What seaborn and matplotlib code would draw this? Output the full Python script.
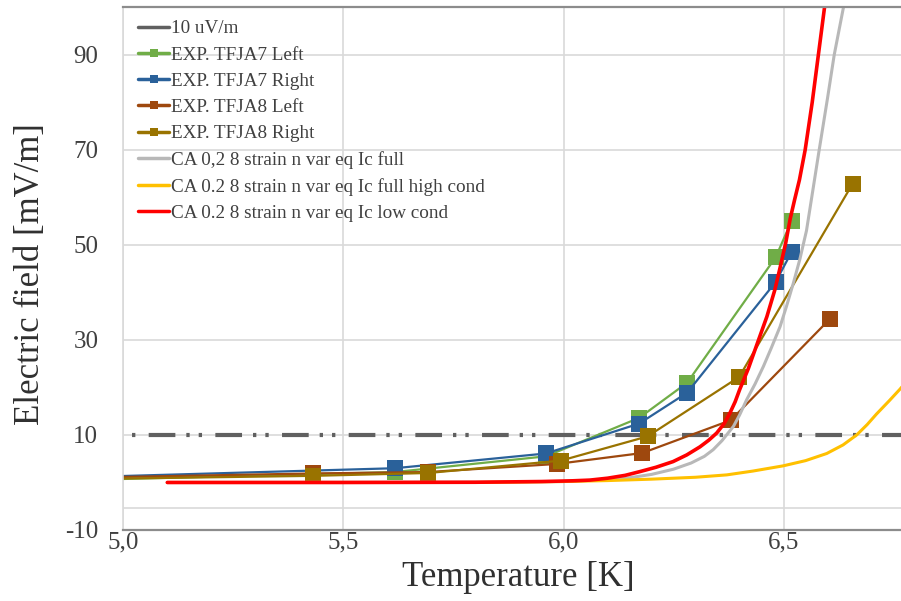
import matplotlib
matplotlib.use("Agg")
import matplotlib.pyplot as plt
import seaborn as sns
import pandas as pd
import numpy as np

# Datos (T en K, E en mV/m)
t_ja7 = [4.90, 5.617, 5.960, 6.172, 6.281, 6.482, 6.518]
e_ja7_left = [0.5, 2.2, 5.5, 13.6, 21.0, 47.4, 55.0]
e_ja7_right = [1.1, 3.0, 6.1, 12.4, 18.9, 42.2, 48.5]

t_ja8_left = [4.90, 5.432, 5.693, 5.985, 6.179, 6.380, 6.605]
e_ja8_left = [1.0, 1.9, 2.2, 3.9, 6.2, 13.1, 34.4]
t_ja8_right = [4.90, 5.432, 5.693, 5.994, 6.191, 6.399, 6.657]
e_ja8_right = [0.7, 1.4, 2.0, 4.6, 9.7, 22.2, 62.9]

# curvas del modelo CA
t_full = [5.10, 5.80, 6.00, 6.10, 6.15, 6.20, 6.25, 6.29, 6.32, 6.34, 6.36, 6.386,
          6.40, 6.416, 6.435, 6.454, 6.472, 6.492, 6.507, 6.522, 6.537, 6.552,
          6.569, 6.580, 6.600, 6.615, 6.636, 6.65]
e_full = [0.0, 0.05, 0.2, 0.6, 1.0, 1.7, 2.8, 4.1, 5.5, 6.9, 8.8, 11.8,
          14.2, 17.4, 20.7, 24.4, 28.3, 32.8, 37.2, 41.9, 47.0, 53.0,
          63.0, 69.5, 81.0, 90.0, 100.0, 108.0]

t_high = [5.10, 5.80, 6.00, 6.10, 6.20, 6.30, 6.371, 6.43, 6.499, 6.55, 6.598,
          6.635, 6.666, 6.69, 6.711, 6.74, 6.764, 6.80]
e_high = [0.0, 0.0, 0.2, 0.4, 0.7, 1.1, 1.6, 2.4, 3.5, 4.6, 6.1,
          7.9, 10.0, 12.2, 14.4, 17.2, 19.6, 23.5]

t_low = [5.10, 5.50, 5.80, 5.95, 6.02, 6.06, 6.10, 6.14, 6.174, 6.21, 6.249, 6.28,
         6.31, 6.33, 6.348, 6.365, 6.378, 6.39, 6.40, 6.42, 6.44, 6.462, 6.48,
         6.492, 6.505, 6.515, 6.525, 6.536, 6.549, 6.565, 6.579, 6.593, 6.60]
e_low = [0.0, 0.0, 0.05, 0.2, 0.35, 0.5, 0.9, 1.5, 2.3, 3.2, 4.4, 5.8,
         7.5, 8.9, 10.4, 12.4, 14.6, 17.0, 19.5, 24.0, 29.2, 34.9, 40.5,
         45.2, 50.5, 55.5, 59.5, 63.7, 70.0, 80.0, 90.0, 100.0, 105.0]

t_ref = [5.0, 6.8]
e_ref = [10, 10]

x_ticks = [5.0, 5.5, 6.0, 6.5]
x_tick_labels = ["5,0", "5,5", "6,0", "6,5"]
y_ticks = [-10, 10, 30, 50, 70, 90]

sns.set_style("white")
plt.rcParams['font.family'] = ['Liberation Serif', 'DejaVu Serif']
plt.rcParams['lines.scale_dashes'] = False
plt.rcParams['axes.unicode_minus'] = False

fig = plt.figure(figsize=(9.01, 6.01), dpi=100)
ax = fig.add_axes([123.3 / 901, 71 / 601, (901 - 123.3) / 901, (530 - 7.3) / 601])

ax.axhline(-5.3, color='#d9d9d9', lw=1.2, zorder=0)

# linea de referencia 10 uV/m (raya-punto-punto)
sns.lineplot(x=t_ref, y=e_ref, ax=ax, color='#606060', lw=3.0, label='10 uV/m',
             linestyle=(29.5, (19.2, 7.9, 2.4, 6.5, 2.4, 9.6)), sort=False, estimator=None)

exp_series = [
    ("EXP. TFJA7 Left", t_ja7, e_ja7_left, '#70ad47'),
    ("EXP. TFJA7 Right", t_ja7, e_ja7_right, '#2a619a'),
    ("EXP. TFJA8 Left", t_ja8_left, e_ja8_left, '#9e480e'),
    ("EXP. TFJA8 Right", t_ja8_right, e_ja8_right, '#997300'),
]
for nombre, t, e, c in exp_series:
    df = pd.DataFrame({'T': t, 'E': e})
    sns.lineplot(data=df, x='T', y='E', ax=ax, color=c, lw=1.6, marker='s',
                 markersize=12, markeredgewidth=0, label=nombre, sort=False, estimator=None)

ca_series = [
    ("CA 0,2 8 strain n var eq Ic full", t_full, e_full, '#b8b8b8', 2.2),
    ("CA 0.2 8 strain n var eq Ic full high cond", t_high, e_high, '#ffc000', 2.2),
    ("CA 0.2 8 strain n var eq Ic low cond", t_low, e_low, '#ff0000', 2.6),
]
for nombre, t, e, c, w in ca_series:
    df = pd.DataFrame({'T': t, 'E': e})
    sns.lineplot(data=df, x='T', y='E', ax=ax, color=c, lw=w, label=nombre,
                 sort=False, estimator=None)

ax.set_xlim(5.0, 5.0 + (901 - 123.3) / 440.2)
ax.set_ylim(-10, 100)
ax.set_xticks(x_ticks)
ax.set_xticklabels(x_tick_labels)
ax.set_yticks(y_ticks)
ax.grid(True, color='#d9d9d9', lw=1.2)
ax.set_axisbelow(True)
ax.tick_params(axis='x', labelsize=18, colors='#404040', length=0, pad=1)
ax.tick_params(axis='y', labelsize=18, colors='#404040', length=0, pad=18)

for s in ['bottom', 'top']:
    ax.spines[s].set_color('#8c8c8c')
    ax.spines[s].set_linewidth(1.6)
ax.spines['left'].set_color('#d9d9d9')
ax.spines['left'].set_linewidth(1.2)
ax.spines['right'].set_visible(False)

ax.set_xlabel('Temperature [K]', fontsize=25, color='#303030')
ax.set_ylabel('Electric field [mV/m]', fontsize=25, color='#303030')
ax.xaxis.set_label_coords(0.508, -0.0593)
ax.yaxis.set_label_coords(-0.098, 0.489)

leg = ax.legend(loc='upper left', bbox_to_anchor=(0.007, 0.994), frameon=False,
                fontsize=13.8, labelspacing=0.46, handlelength=1.6, handletextpad=0.1,
                borderpad=0, markerscale=0.45, labelcolor='#404040')
leg.get_lines()[0].set_linestyle('-')
for ln in leg.get_lines():
    ln.set_linewidth(2.5)

fig.savefig('out.png', dpi=100)
